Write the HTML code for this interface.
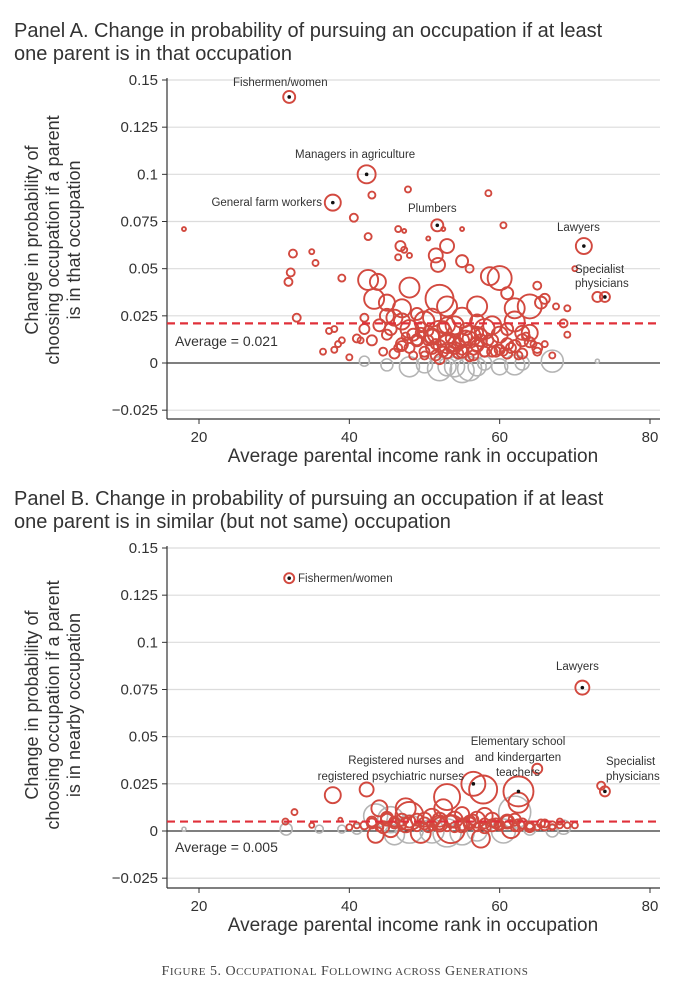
<!DOCTYPE html>
<html><head><meta charset="utf-8">
<style>
html,body{margin:0;padding:0;background:#fff;width:690px;height:990px;overflow:hidden}
svg{display:block}
text{font-family:"Liberation Sans",sans-serif}
</style></head>
<body>
<svg id="fig" width="690" height="990" viewBox="0 0 690 990">
<text x="14" y="37" font-size="20" fill="#333">Panel A. Change in probability of pursuing an occupation if at least</text>
<text x="14" y="60" font-size="20" fill="#333">one parent is in that occupation</text>
<text x="14" y="505" font-size="20" fill="#333">Panel B. Change in probability of pursuing an occupation if at least</text>
<text x="14" y="528" font-size="20" fill="#333">one parent is in similar (but not same) occupation</text>
<g id="pa"></g>
<g id="pb"></g>
<text x="345" y="975" font-size="14" fill="#444" text-anchor="middle" letter-spacing="0.5" style="font-family:'Liberation Serif',serif">F<tspan font-size="11">IGURE</tspan> 5. O<tspan font-size="11">CCUPATIONAL</tspan> F<tspan font-size="11">OLLOWING ACROSS</tspan> G<tspan font-size="11">ENERATIONS</tspan></text>
</svg>
<script>
// ---- Panel A data ----
const aX=[42,45,48,52,55,57,60,62,67,73,50,54,58,63,56,53,
18,32.5,32.2,31.9,35,35.5,39,40.6,43,47.8,58.5,42.5,46.5,47.3,46.8,47.3,46.5,48,50.5,52.5,55,60.5,53,51.5,51.8,55,56,60,58.7,42.5,43.8,48,43.3,45,47,52,53,57,61,64,65.5,62,66,65,67.5,69,68.5,69,70,73,33,37.3,38,39,38,40,36.5,38.5,41,42,
44,45,46,47,48,49,50,51,52,53,54,55,56,57,58,59,60,61,62,63,64,65,44.5,46.5,48.5,50.5,52.5,54.5,56.5,58.5,60.5,62.5,64.5,45,47,49,51,53,55,57,59,61,63,50,52,54,56,58,51,53,55,57,43,45.5,47.5,49.5,51.5,53.5,55.5,57.5,59.5,61.5,63.5,66,67,42,41.5,
48,49,50,51,52,53,54,55,56,57,58,59,50.5,51.5,52.5,53.5,54.5,55.5,56.5,57.5,46,47,48.5,49.5,60,61,62,63,64,65,
32,42.3,37.8,51.7,71.2,74];
const aY=[0.001,-0.001,-0.002,-0.003,-0.004,-0.002,-0.002,-0.001,0.001,0.001,-0.001,-0.002,0,0,-0.003,-0.002,
0.071,0.058,0.048,0.043,0.059,0.053,0.045,0.077,0.089,0.092,0.09,0.067,0.071,0.07,0.062,0.06,0.056,0.057,0.066,0.071,0.071,0.073,0.062,0.057,0.052,0.054,0.05,0.045,0.046,0.044,0.043,0.04,0.034,0.032,0.029,0.034,0.03,0.03,0.037,0.03,0.032,0.029,0.034,0.041,0.03,0.029,0.021,0.015,0.05,0.035,0.024,0.017,0.018,0.012,0.007,0.003,0.006,0.01,0.013,0.018,
0.02,0.015,0.024,0.01,0.018,0.012,0.022,0.008,0.016,0.012,0.02,0.006,0.014,0.01,0.018,0.006,0.015,0.01,0.022,0.012,0.016,0.008,0.006,0.008,0.004,0.012,0.006,0.01,0.004,0.012,0.006,0.004,0.01,0.025,0.022,0.026,0.024,0.02,0.024,0.022,0.02,0.018,0.016,0.004,0.002,0.008,0.003,0.006,0.014,0.01,0.012,0.016,0.012,0.018,0.014,0.016,0.01,0.008,0.014,0.012,0.006,0.008,0.014,0.01,0.004,0.024,0.012,
0.008,0.012,0.006,0.014,0.009,0.005,0.011,0.007,0.013,0.009,0.006,0.012,0.017,0.004,0.019,0.013,0.005,0.018,0.007,0.015,0.005,0.009,0.015,0.019,0.007,0.005,0.009,0.005,0.011,0.006,
0.141,0.1,0.085,0.073,0.062,0.035];
const aR=[5,6,10,12,12,9,8,10,11,2,8,10,7,7,12,9,
2,4,4,4,2.5,3,3.5,4,3.5,3,3,3.5,3,2,5,3,3,2.5,2,2,2,3,7,7,7,6,4,12,9,10,8,10,10,8,9,14,10,10,6,12,6,10,5,4,3,3,4,3,2.5,5,4,3,3,3,3,3,3,3,4,5,
6,5,8,6,9,5,10,6,12,7,9,6,11,7,10,5,8,6,10,6,8,5,4,4,4,5,5,6,5,5,4,4,3,7,8,6,9,8,10,7,9,6,7,4,5,6,4,5,8,9,7,6,5,6,4,5,5,5,6,6,5,5,4,3,3,4,3,
5,6,5,7,6,5,6,5,7,6,5,6,5,5,6,5,5,6,5,6,5,5,6,5,5,5,6,5,5,4,
6,9,8,6,8,5];
const aC=aX.map((_,i)=>i<16?0:1);
const aLabels=["Fishermen/women","Managers in agriculture","General farm workers","Plumbers","Lawyers","Specialist physicians"];
const aLabX=[32,42.3,37.8,51.7,71.2,74];
const aLabY=[0.141,0.1,0.085,0.073,0.062,0.035];
const aAvg=0.021;
// ---- Panel B data ----
const bX=[18,31.6,36,39,41,43.5,45.5,48,51,55,60.5,62,67,68.5,46,53,57,64,
31.5,32.7,35,38.8,37.8,42.3,65,73.5,44,47.5,48,53,57.8,62.5,50,52,54,56,58,60,62,64,66,68,70,
42,43,44,45,46,47,48,49,50,51,52,53,54,55,56,57,58,59,60,61,62,63,64,65,66,67,68,40,41,69,43.5,45.5,49.5,53.5,57.5,61.5,52.5,47,55,59,
43,44.5,46,47.5,49,50.5,52,53.5,55,56.5,58,59.5,61,62.5,64,65.5,67,45,51,57,
32,71,74,56.5,62.5];
const bY=[0.001,0.001,0.001,0.001,0.001,0.008,0.006,0.001,0,-0.001,0,0.01,0,0.002,-0.002,-0.001,0,0.001,
0.005,0.01,0.003,0.006,0.019,0.022,0.033,0.024,0.012,0.012,0.008,0.018,0.022,0.015,0.004,0.006,0.002,0.004,0.008,0.003,0.006,0.002,0.003,0.005,0.003,
0.003,0.005,0.002,0.006,0.004,0.003,0.005,0.002,0.006,0.003,0.004,0.002,0.006,0.003,0.005,0.002,0.004,0.006,0.003,0.005,0.002,0.004,0.003,0.002,0.004,0.002,0.003,0.002,0.003,0.003,-0.002,0.001,-0.001,0.001,-0.004,0.001,0.012,0.006,0.009,0.003,
0.004,0.002,0.005,0.003,0.006,0.002,0.004,0.005,0.003,0.006,0.002,0.004,0.005,0.003,0.002,0.004,0.003,0.007,0.007,0.006,
0.134,0.076,0.021,0.025,0.021];
const bR=[2,6,4,4,5,12,13,14,12,12,12,16,6,7,10,14,10,6,
3,3,2.5,2,8,7,5,4,8,10,14,13,14,10,6,7,5,6,8,5,6,4,5,3,3,
4,5,4,6,5,4,6,4,7,5,6,4,8,5,6,4,5,7,4,6,4,5,4,3,4,3,3,3,3,3,8,8,10,14,9,9,9,6,7,6,
5,6,5,7,6,5,8,6,7,5,6,5,7,6,5,4,4,6,9,8,
5,7,5,12,15];
const bC=bX.map((_,i)=>i<18?0:1);
const bAvg=0.005;
const yTicks=[0.15,0.125,0.1,0.075,0.05,0.025,0,-0.025];
const yTickLabels=["0.15","0.125","0.1","0.075","0.05","0.025","0","\u22120.025"];
const xTicks=[20,40,60,80];

const NS="http://www.w3.org/2000/svg";
function mk(p,tag,at){const e=document.createElementNS(NS,tag);for(const k in at)e.setAttribute(k,at[k]);p.appendChild(e);return e;}
const RED="#d2493f",GRAY="#b4b4b4";

function panel(g,cfg){
  const xS=v=>199+(v-20)*(650-199)/60;
  const yS=v=>cfg.y0-v*(cfg.y0-cfg.y15)/0.15;
  const L=167,R=660,B=cfg.bottom;
  yTicks.forEach((t,i)=>{
    const y=yS(t);
    if(t!==0){const gl=mk(g,'line',{x1:L,x2:R,y1:y,y2:y,stroke:'#dcdcdc','stroke-width':1.2});
    
    }
    mk(g,'line',{x1:L-5,x2:L,y1:y,y2:y,stroke:'#333','stroke-width':1});
    const tl=mk(g,'text',{x:L-9,y:y+5,'font-size':15,'text-anchor':'end',fill:'#333'});
    tl.textContent=yTickLabels[i];
    
    
  });
  xTicks.forEach(t=>{
    const x=xS(t);
    mk(g,'line',{x1:x,x2:x,y1:B,y2:B+5,stroke:'#333','stroke-width':1});
    const tl=mk(g,'text',{x:x,y:B+23,'font-size':15,'text-anchor':'middle',fill:'#333'});
    tl.textContent=t;
    
    
  });
  mk(g,'line',{x1:L,x2:L,y1:yS(0.15)-2,y2:B,stroke:'#333','stroke-width':1.2});
  mk(g,'line',{x1:L,x2:R,y1:B,y2:B,stroke:'#333','stroke-width':1.2});
  const zl=mk(g,'line',{x1:L,x2:R,y1:yS(0),y2:yS(0),stroke:'#333','stroke-width':1.2});
  
  
  const n=Math.min(cfg.X.length,cfg.Y.length,cfg.R.length);
  for(let i=0;i<n;i++){
    const c=mk(g,'circle',{cx:xS(cfg.X[i]),cy:yS(cfg.Y[i]),r:cfg.R[i],fill:'none',stroke:cfg.C[i]?RED:GRAY,'stroke-width':cfg.C[i]?1.9:1.6});
    
    
  }
  cfg.dots.forEach(([x,y])=>{const d=mk(g,'circle',{cx:xS(x),cy:yS(y),r:1.8,fill:'#111'});
    
    });
  const al=mk(g,'line',{x1:L,x2:R,y1:yS(cfg.avg),y2:yS(cfg.avg),stroke:'#e0303a','stroke-width':2.2,'stroke-dasharray':'8,5'});
  
  
  const at=mk(g,'text',{x:175,y:yS(0)-cfg.avgOff,'font-size':14,fill:'#333'});
  at.textContent='Average = '+cfg.avg.toFixed(3);
  
  
  cfg.labels.forEach(l=>{
    const t=mk(g,'text',{x:l[0],y:l[1],'font-size':11.5,fill:'#333','text-anchor':l[3]||'start'});
    t.textContent=l[2];
    
    
  });
  const xt=mk(g,'text',{x:413,y:B+43,'font-size':19,'text-anchor':'middle',fill:'#333'});
  xt.textContent='Average parental income rank in occupation';
  
  
  const cy=cfg.titleCy;
  cfg.ytitle.forEach((s,i)=>{
    const t=mk(g,'text',{x:0,y:0,'font-size':18,'text-anchor':'middle',fill:'#333',transform:`translate(${38+i*21},${cy}) rotate(-90)`});
    t.textContent=s;
    
    
  });
}
panel(document.getElementById('pa'),{X:aX,Y:aY,R:aR,C:aC,y0:363,y15:80,bottom:419,avg:aAvg,avgOff:17,titleCy:240,
  dots:aLabX.map((x,i)=>[x,aLabY[i]]),
  ytitle:["Change in probability of","choosing occupation if a parent","is in that occupation"],
  labels:[[233,86,aLabels[0]],[295,158,aLabels[1]],[322,206,aLabels[2],'end'],[408,212,aLabels[3]],[557,231,aLabels[4]],[575,273,"Specialist"],[575,287,"physicians"]]});
panel(document.getElementById('pb'),{X:bX,Y:bY,R:bR,C:bC,y0:831,y15:548,bottom:888,avg:bAvg,avgOff:-21,titleCy:705,
  dots:[[32,0.134],[71,0.076],[74,0.021],[56.5,0.025],[62.5,0.021]],
  ytitle:["Change in probability of","choosing occupation if a parent","is in nearby occupation"],
  labels:[[298,582,"Fishermen/women"],[556,670,"Lawyers"],[464,764,"Registered nurses and",'end'],[464,780,"registered psychiatric nurses",'end'],[518,745,"Elementary school",'middle'],[518,761,"and kindergarten",'middle'],[518,776,"teachers",'middle'],[606,765,"Specialist"],[606,780,"physicians"]]});
</script>
</body></html>
